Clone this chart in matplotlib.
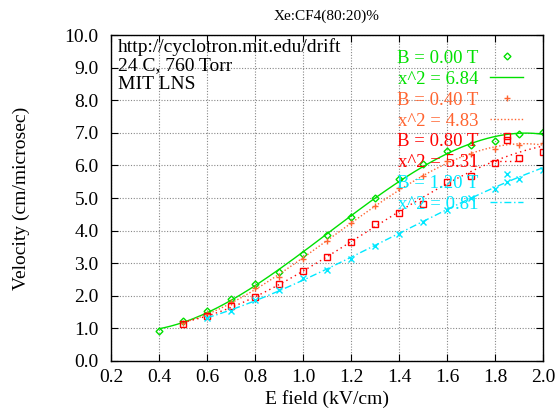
import numpy as np
import matplotlib
matplotlib.use("Agg")
import matplotlib.pyplot as plt
from matplotlib.lines import Line2D

plt.rcParams['font.family'] = ['Liberation Serif', 'DejaVu Serif']

# ---- data ----
x_b000 = [0.4, 0.5, 0.6, 0.7, 0.8, 0.9, 1.0, 1.1, 1.2, 1.3, 1.4, 1.5, 1.6, 1.7, 1.8, 1.9, 2.0]
v_b000 = [0.93, 1.22, 1.53, 1.90, 2.35, 2.74, 3.27, 3.87, 4.43, 4.99, 5.57, 6.04, 6.45, 6.63, 6.76, 6.96, 7.02]

x_b040 = [0.5, 0.6, 0.7, 0.8, 0.9, 1.0, 1.1, 1.2, 1.3, 1.4, 1.5, 1.6, 1.7, 1.8, 1.9, 2.0]
v_b040 = [1.15, 1.45, 1.82, 2.23, 2.59, 3.12, 3.68, 4.22, 4.76, 5.32, 5.67, 6.13, 6.35, 6.49, 6.63, 6.68]

x_b080 = [0.5, 0.6, 0.7, 0.8, 0.9, 1.0, 1.1, 1.2, 1.3, 1.4, 1.5, 1.6, 1.7, 1.8, 1.85, 1.9, 2.0]
v_b080 = [1.14, 1.39, 1.70, 1.97, 2.35, 2.77, 3.18, 3.66, 4.20, 4.55, 4.81, 5.50, 5.68, 6.06, 6.91, 6.24, 6.42]

x_b120 = [0.6, 0.7, 0.8, 0.9, 1.0, 1.1, 1.2, 1.3, 1.4, 1.5, 1.6, 1.7, 1.8, 1.85, 1.9, 2.0]
v_b120 = [1.31, 1.54, 1.87, 2.18, 2.55, 2.80, 3.14, 3.52, 3.91, 4.27, 4.63, 4.99, 5.27, 5.74, 5.58, 5.86]

labels_b = ["B = 0.00 T", "B = 0.40 T", "B = 0.80 T", "B = 1.20 T"]
labels_chi = ["x^2 = 6.84", "x^2 = 4.83", "x^2 = 5.31", "x^2 = 0.81"]

x_ticks = [0.2, 0.4, 0.6, 0.8, 1.0, 1.2, 1.4, 1.6, 1.8, 2.0]
y_ticks = [0, 1, 2, 3, 4, 5, 6, 7, 8, 9, 10]

colors = ['#00e000', '#ff6430', '#ff0000', '#00e8ff']
markers = ['D', '+', 's', 'x']
msizes = [3.5, 5, 5, 4.5]
lstyles = ['-', (0, (1, 1.5)), (0, (1, 2.5)), (0, (5, 2, 1, 2))]

fig = plt.figure(figsize=(5.58, 4.13), dpi=100)
ax = fig.add_axes([0.199, 0.126, 0.774, 0.789])

series = [(x_b000, v_b000), (x_b040, v_b040), (x_b080, v_b080), (x_b120, v_b120)]
handles = []
labels = []
for i, (xs, vs) in enumerate(series):
    xs = np.array(xs); vs = np.array(vs)
    ax.plot(xs, vs, linestyle='none', marker=markers[i], markersize=msizes[i],
            markerfacecolor='none', markeredgecolor=colors[i], markeredgewidth=1.0)
    coef = np.polyfit(xs, vs, 3)
    xf = np.linspace(xs.min(), xs.max(), 200)
    ax.plot(xf, np.polyval(coef, xf), color=colors[i], linestyle=lstyles[i], lw=1.0)
    handles.append(Line2D([], [], linestyle='none', marker=markers[i], markersize=msizes[i],
                          markerfacecolor='none', markeredgecolor=colors[i], markeredgewidth=1.0))
    labels.append(labels_b[i])
    handles.append(Line2D([], [], color=colors[i], linestyle=lstyles[i], lw=1.0))
    labels.append(labels_chi[i])

ax.set_xlim(0.2, 2.0)
ax.set_ylim(0, 10)
ax.set_xticks(x_ticks)
ax.set_yticks(y_ticks)
ax.set_xticklabels([f"{t:.1f}" for t in x_ticks])
ax.set_yticklabels([f"{t:.1f}" for t in y_ticks])
ax.tick_params(direction='in', top=True, right=True, length=5, width=0.8,
               labelsize=14)
ax.tick_params(axis='x', pad=6)
ax.tick_params(axis='y', pad=9)
ax.grid(True, color='#888888', linestyle=(0, (1, 1.5)), lw=0.8)
for s in ax.spines.values():
    s.set_linewidth(1.0)

ax.set_xlabel("E field (kV/cm)", fontsize=14, labelpad=3)
ax.set_ylabel("Velocity (cm/microsec)", fontsize=14, labelpad=25)
ax.set_title("Xe:CF4(80:20)%", fontsize=11, pad=11)

ax.text(0.015, 0.99, "http://cyclotron.mit.edu/drift\n24 C, 760 Torr\nMIT LNS",
        transform=ax.transAxes, ha='left', va='top', fontsize=14, linespacing=1.1)

leg = ax.legend(handles, labels, loc='upper right', bbox_to_anchor=(0.955, 0.955),
                frameon=False, markerfirst=False, fontsize=13.5, labelspacing=0.2,
                handlelength=1.8, handletextpad=0.6, borderpad=0, borderaxespad=0)
for t, c in zip(leg.get_texts(), [c for c in colors for _ in range(2)]):
    t.set_color(c)

fig.savefig("out.png", dpi=100)
